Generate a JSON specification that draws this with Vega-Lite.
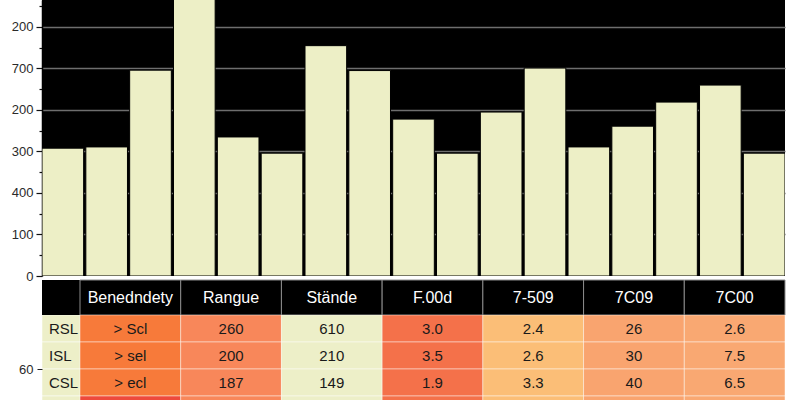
{
  "$schema": "https://vega.github.io/schema/vega-lite/v6.json",
  "padding": 0,
  "background": "#ffffff",
  "config": {
    "font": "Liberation Sans",
    "view": {"stroke": null},
    "axis": {"labelFont": "Liberation Sans"}
  },
  "datasets": {
    "bars": [
      {"bar": "b01", "value": 308},
      {"bar": "b02", "value": 311},
      {"bar": "b03", "value": 496},
      {"bar": "b04", "value": 690},
      {"bar": "b05", "value": 335},
      {"bar": "b06", "value": 296},
      {"bar": "b07", "value": 555},
      {"bar": "b08", "value": 495},
      {"bar": "b09", "value": 378},
      {"bar": "b10", "value": 296},
      {"bar": "b11", "value": 395},
      {"bar": "b12", "value": 501},
      {"bar": "b13", "value": 311},
      {"bar": "b14", "value": 361},
      {"bar": "b15", "value": 419},
      {"bar": "b16", "value": 460},
      {"bar": "b17", "value": 296}
    ],
    "rows": [
      {"row": "RSL", "c": "label"},
      {"row": "ISL", "c": "label"},
      {"row": "CSL", "c": "label"},
      {"row": "PSL", "c": "label"}
    ],
    "cols": [
      {"col": "Benedndety"}, {"col": "Rangue"}, {"col": "Stände"}, {"col": "F.00d"},
      {"col": "7-509"}, {"col": "7C09"}, {"col": "7C00"}
    ],
    "cells": [
      {"row": "RSL", "col": "Benedndety", "v": "> Scl"},
      {"row": "RSL", "col": "Rangue", "v": "260"},
      {"row": "RSL", "col": "Stände", "v": "610"},
      {"row": "RSL", "col": "F.00d", "v": "3.0"},
      {"row": "RSL", "col": "7-509", "v": "2.4"},
      {"row": "RSL", "col": "7C09", "v": "26"},
      {"row": "RSL", "col": "7C00", "v": "2.6"},
      {"row": "ISL", "col": "Benedndety", "v": "> sel"},
      {"row": "ISL", "col": "Rangue", "v": "200"},
      {"row": "ISL", "col": "Stände", "v": "210"},
      {"row": "ISL", "col": "F.00d", "v": "3.5"},
      {"row": "ISL", "col": "7-509", "v": "2.6"},
      {"row": "ISL", "col": "7C09", "v": "30"},
      {"row": "ISL", "col": "7C00", "v": "7.5"},
      {"row": "CSL", "col": "Benedndety", "v": "> ecl"},
      {"row": "CSL", "col": "Rangue", "v": "187"},
      {"row": "CSL", "col": "Stände", "v": "149"},
      {"row": "CSL", "col": "F.00d", "v": "1.9"},
      {"row": "CSL", "col": "7-509", "v": "3.3"},
      {"row": "CSL", "col": "7C09", "v": "40"},
      {"row": "CSL", "col": "7C00", "v": "6.5"},
      {"row": "PSL", "col": "Benedndety", "v": ""},
      {"row": "PSL", "col": "Rangue", "v": ""},
      {"row": "PSL", "col": "Stände", "v": ""},
      {"row": "PSL", "col": "F.00d", "v": ""},
      {"row": "PSL", "col": "7-509", "v": ""},
      {"row": "PSL", "col": "7C09", "v": ""},
      {"row": "PSL", "col": "7C00", "v": ""}
    ]
  },
  "bounds": "flush",
  "spacing": 0,
  "vconcat": [
    {
      "width": 743,
      "height": 276,
      "view": {"fill": "#000000", "stroke": null},
      "data": {"name": "bars"},
      "mark": {"type": "bar", "fill": "#EDEFC6", "stroke": "#000000", "strokeWidth": 1, "clip": true},
      "encoding": {
        "x": {"field": "bar", "type": "nominal", "sort": null, "scale": {"paddingInner": 0.05, "paddingOuter": 0}, "axis": null},
        "y": {
          "field": "value", "type": "quantitative",
          "scale": {"domain": [0, 665], "nice": false},
          "axis": {
            "values": [0, 50, 100, 150, 200, 250, 300, 350, 400, 450, 500, 550, 600, 650],
            "labelExpr": "datum.value === 0 ? '0' : datum.value === 100 ? '100' : datum.value === 200 ? '400' : datum.value === 300 ? '300' : datum.value === 400 ? '200' : datum.value === 500 ? '700' : datum.value === 600 ? '200' : ''",
            "title": null,
            "grid": true,
            "gridColor": "#6e6e6e",
            "gridWidth": 1.5,
            "gridOpacity": {"condition": {"test": "datum.value % 100 !== 0 || datum.value === 0", "value": 0}, "value": 1},
            "domain": true,
            "domainColor": "#000000",
            "domainWidth": 1.5,
            "tickColor": "#111111",
            "tickWidth": 1.2,
            "tickSize": {"condition": {"test": "datum.value % 100 === 0", "value": 6}, "value": 3},
            "labelPadding": 3,
            "labelFontSize": 13,
            "labelColor": "#2a2a2a",
            "minExtent": 42,
            "maxExtent": 42
          }
        }
      }
    },
    {
      "width": 743,
      "height": 39,
      "data": {"name": "cols"},
      "encoding": {
        "y": {"datum": "header", "type": "nominal", "scale": {"range": [4, 39]}, "axis": null}
      },
      "layer": [
        {"mark": {"type": "rect", "fill": "#000000"}},
        {
          "mark": {"type": "rect", "fill": "#000000", "stroke": "#8c8c8c", "strokeWidth": 1},
          "encoding": {
            "x": {"field": "col", "type": "nominal", "sort": null, "scale": {"range": [38, 743]}, "axis": null}
          }
        },
        {
          "mark": {"type": "text", "color": "#ffffff", "fontSize": 16, "baseline": "middle"},
          "encoding": {
            "x": {"field": "col", "type": "nominal", "sort": null, "scale": {"range": [38, 743]}, "axis": null},
            "text": {"field": "col"}
          }
        }
      ]
    },
    {
      "width": 743,
      "height": 85,
      "encoding": {
        "y": {
          "field": "row", "type": "nominal", "sort": ["RSL", "ISL", "CSL", "PSL"],
          "scale": {"domain": ["RSL", "ISL", "CSL", "PSL"], "range": [0, 108]},
          "axis": {"values": ["CSL"], "labelExpr": "'60'", "tickOffset": -13.5, "domain": false, "grid": false, "ticks": true, "tickSize": 5, "tickColor": "#222222", "labelPadding": 4, "labelFontSize": 13, "labelColor": "#2a2a2a", "title": null}
        }
      },
      "resolve": {"scale": {"x": "independent"}},
      "layer": [
        {
          "data": {"name": "rows"},
          "mark": {"type": "rect", "fill": "#EDEFC8", "stroke": "#ffffff", "strokeOpacity": 0.5, "strokeWidth": 1, "clip": true}
        },
        {
          "data": {"name": "cells"},
          "mark": {"type": "rect", "stroke": "#ffffff", "strokeOpacity": 0.45, "strokeWidth": 1, "clip": true},
          "encoding": {
            "x": {"field": "col", "type": "nominal", "sort": ["Benedndety", "Rangue", "Stände", "F.00d", "7-509", "7C09", "7C00"], "scale": {"range": [38, 743]}, "axis": null},
            "color": {
              "condition": {"test": "datum.row === 'PSL' && datum.col === 'Benedndety'", "value": "#EE4A3C"},
              "field": "col", "type": "nominal",
              "scale": {
                "domain": ["Benedndety", "Rangue", "Stände", "F.00d", "7-509", "7C09", "7C00"],
                "range": ["#F77A3A", "#F8875A", "#EDEFC8", "#F4714A", "#FBBE77", "#F9A46F", "#F9A872"]
              },
              "legend": null
            }
          }
        },
        {
          "data": {"name": "cells"},
          "transform": [{"filter": "datum.v !== ''"}],
          "mark": {"type": "text", "fontSize": 15, "color": "#1a1a1a", "clip": true},
          "encoding": {
            "x": {"field": "col", "type": "nominal", "sort": ["Benedndety", "Rangue", "Stände", "F.00d", "7-509", "7C09", "7C00"], "scale": {"range": [38, 743]}, "axis": null},
            "text": {"field": "v"}
          }
        },
        {
          "data": {"name": "rows"},
          "transform": [{"filter": "datum.row !== 'PSL'"}],
          "mark": {"type": "text", "align": "left", "dx": -12, "fontSize": 15, "color": "#1a1a1a", "clip": true},
          "encoding": {
            "x": {"field": "c", "type": "nominal", "scale": {"range": [0, 38]}, "axis": null},
            "text": {"field": "row"}
          }
        }
      ]
    }
  ]
}
